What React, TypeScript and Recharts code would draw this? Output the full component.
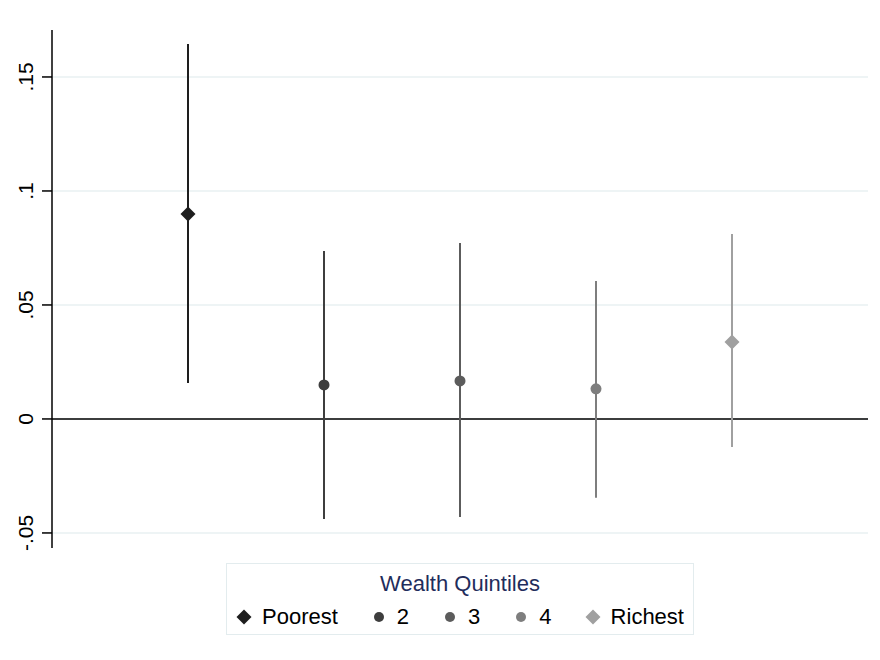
import {
  CartesianGrid,
  ComposedChart,
  ErrorBar,
  ReferenceLine,
  Scatter,
  XAxis,
  YAxis,
} from 'recharts';

const quintiles = ['Poorest', '2', '3', '4', 'Richest'];
const estimates = [0.0899, 0.0149, 0.0167, 0.0132, 0.0338];
const lowerBounds = [0.0158, -0.0439, -0.043, -0.0346, -0.0123];
const upperBounds = [0.1645, 0.0737, 0.0772, 0.0605, 0.0811];
const yTicks = [-0.05, 0, 0.05, 0.1, 0.15];

const markerColors = ['#1e1e1e', '#3e3e3e', '#5c5c5c', '#7e7e7e', '#a0a0a0'];
const markerShapes = ['diamond', 'circle', 'circle', 'circle', 'diamond'];

const font = '"Liberation Sans", Arial, sans-serif';

function formatTick(value: number): string {
  if (value === 0) return '0';
  const s = String(Number(value.toFixed(2)));
  return s.replace('0.', '.');
}

function Marker({ cx, cy, fill, kind }: { cx?: number; cy?: number; fill: string; kind: string }) {
  if (cx == null || cy == null) return null;
  if (kind === 'diamond') {
    const r = 7.5;
    return <polygon points={`${cx},${cy - r} ${cx + r},${cy} ${cx},${cy + r} ${cx - r},${cy}`} fill={fill} />;
  }
  return <circle cx={cx} cy={cy} r={5.5} fill={fill} />;
}

// y labels are turned on their side, reading bottom to top
function renderTick(props: any) {
  const { y, payload } = props;
  const tx = 33;
  return (
    <text
      x={tx}
      y={y}
      transform={`rotate(-90 ${tx} ${y})`}
      textAnchor="middle"
      style={{ fontSize: 21, fontFamily: font, fill: '#000' }}
    >
      {formatTick(payload.value)}
    </text>
  );
}

function LegendIcon({ kind, color }: { kind: string; color: string }) {
  return (
    <svg width={16} height={16} style={{ marginRight: 10 }}>
      {kind === 'diamond' ? (
        <polygon points="8,0.5 15.5,8 8,15.5 0.5,8" fill={color} />
      ) : (
        <circle cx={8} cy={8} r={5} fill={color} />
      )}
    </svg>
  );
}

function QuintileLegend() {
  return (
    <div
      style={{
        position: 'absolute',
        left: 226,
        top: 563,
        width: 468,
        height: 72,
        border: '1px solid #e3ecee',
        boxSizing: 'border-box',
        fontFamily: font,
        background: '#fff',
      }}
    >
      <div style={{ textAlign: 'center', color: '#1f2d5c', fontSize: 22, marginTop: 8, lineHeight: '24px' }}>
        Wealth Quintiles
      </div>
      <div style={{ display: 'flex', justifyContent: 'center', alignItems: 'center', marginTop: 8, gap: 33 }}>
        {quintiles.map((q, i) => (
          <div
            key={q}
            style={{ display: 'flex', alignItems: 'center', fontSize: 22, lineHeight: '26px', color: '#000' }}
          >
            <LegendIcon kind={markerShapes[i]} color={markerColors[i]} />
            {q}
          </div>
        ))}
      </div>
    </div>
  );
}

export default function App() {
  const series = quintiles.map((name, i) => ({
    name,
    data: [
      {
        x: i + 1,
        y: estimates[i],
        err: [estimates[i] - lowerBounds[i], upperBounds[i] - estimates[i]],
      },
    ],
  }));

  return (
    <div style={{ position: 'absolute', left: 0, top: 0, width: 880, height: 660, background: '#fff' }}>
      <ComposedChart width={880} height={660} margin={{ top: 30, right: 12, bottom: 112, left: 0 }}>
        <CartesianGrid
          horizontal
          vertical={false}
          horizontalValues={yTicks}
          stroke="#e8f0f2"
          strokeWidth={1.5}
        />
        <XAxis type="number" dataKey="x" domain={[0, 6]} hide />
        <YAxis
          type="number"
          dataKey="y"
          width={52}
          domain={[-0.0566, 0.1706]}
          allowDataOverflow
          ticks={yTicks}
          tick={renderTick}
          tickSize={10}
          axisLine={{ stroke: '#000', strokeWidth: 1.5 }}
          tickLine={{ stroke: '#000', strokeWidth: 1.5 }}
        />
        <ReferenceLine y={0} stroke="#000" strokeWidth={1.5} />
        {series.map((s, i) => (
          <Scatter
            key={s.name}
            name={s.name}
            data={s.data}
            isAnimationActive={false}
            fill={markerColors[i]}
            shape={(props: any) => <Marker cx={props.cx} cy={props.cy} fill={markerColors[i]} kind={markerShapes[i]} />}
          >
            <ErrorBar
              dataKey="err"
              direction="y"
              width={0}
              stroke={markerColors[i]}
              strokeWidth={2}
              isAnimationActive={false}
            />
          </Scatter>
        ))}
      </ComposedChart>
      <QuintileLegend />
    </div>
  );
}
